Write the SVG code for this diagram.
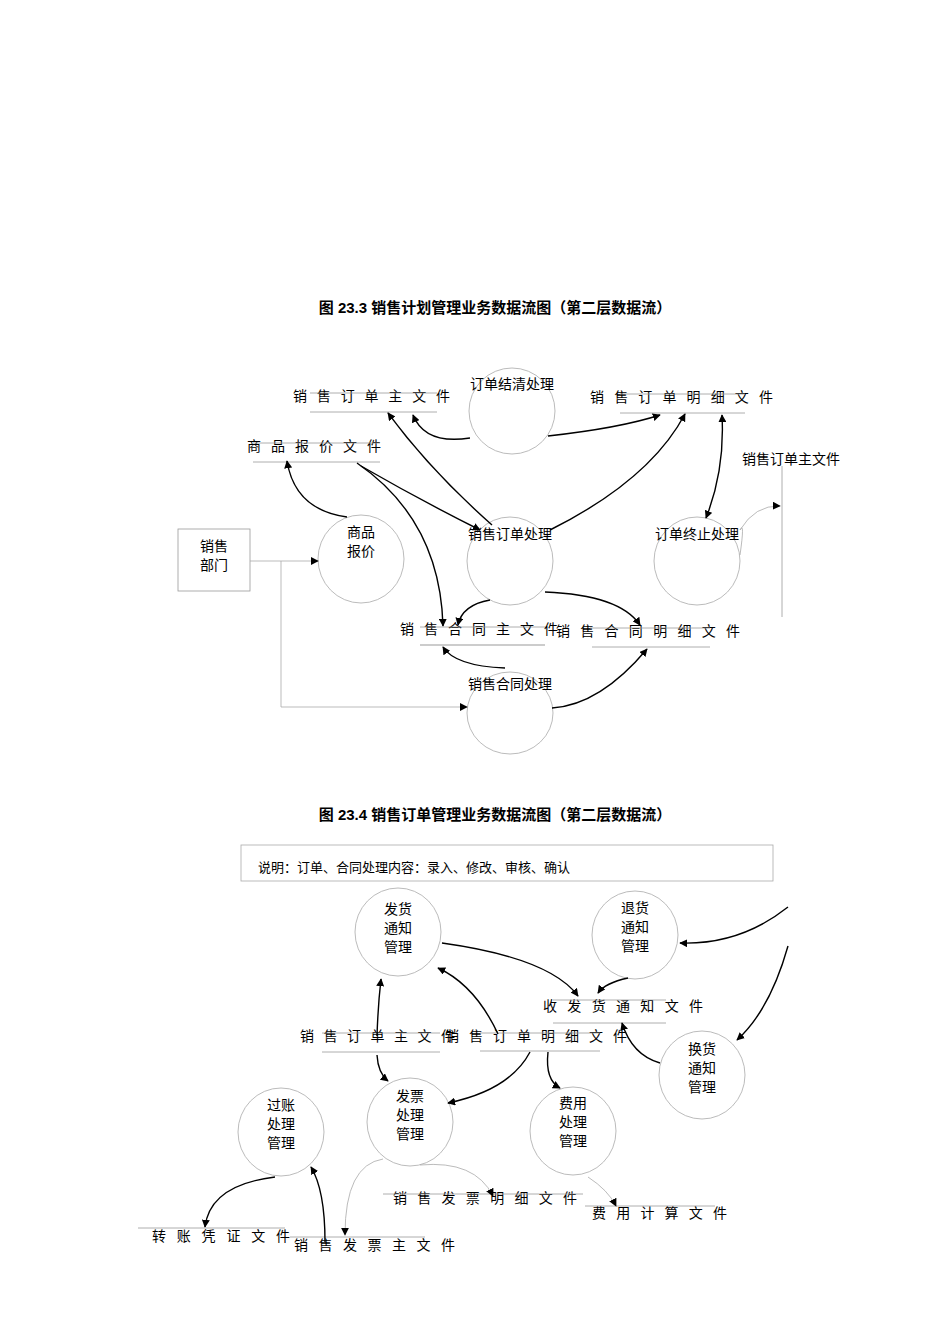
<svg xmlns="http://www.w3.org/2000/svg" width="950" height="1344" viewBox="0 0 950 1344">
<style>
text{font-family:"Liberation Serif","Noto Sans CJK SC",serif;font-size:14px;fill:#000}
.t{font-family:"Liberation Sans","Noto Sans CJK SC",sans-serif;font-weight:bold;font-size:15px}
.c{fill:#fff;stroke:#aaa;stroke-width:0.8}
.l{stroke:#999;stroke-width:0.8;fill:none}
.a{stroke:#000;stroke-width:1.4;fill:none;marker-end:url(#ar)}
.g{stroke:#aaa;stroke-width:0.8;fill:none;marker-end:url(#ar)}
.m{text-anchor:middle}
</style>
<defs><marker id="ar" viewBox="0 0 10 10" refX="9" refY="5" markerWidth="8" markerHeight="8" markerUnits="userSpaceOnUse" orient="auto-start-reverse"><path d="M0,0L10,5L0,10z" fill="#000"/></marker></defs>
<text class="t m" x="495" y="313">图 23.3  销售计划管理业务数据流图（第二层数据流）</text>
<text class="t m" x="495" y="820">图 23.4  销售订单管理业务数据流图（第二层数据流）</text>
<g id="stores">
<g id="s1"><text x="293" y="401" textLength="157" lengthAdjust="spacing">销售订单主文件</text><path class="l" d="M310 393H437M310 412H437"/></g>
<g id="s2"><text x="590" y="402" textLength="183" lengthAdjust="spacing">销售订单明细文件</text><path class="l" d="M620 394H745M620 413H745"/></g>
<g id="s3"><text x="247" y="451" textLength="134" lengthAdjust="spacing">商品报价文件</text><path class="l" d="M253 443H380M253 462H380"/></g>
<g id="s4"><text x="742" y="464">销售订单主文件</text><path class="l" d="M782 466V617"/></g>
<g id="s5"><text x="400" y="634" textLength="158" lengthAdjust="spacing">销售合同主文件</text><path class="l" d="M420 627H545"/><path d="M420 645H545" stroke="#bbb" stroke-width="1.5"/></g>
<g id="s6"><text x="556" y="636" textLength="184" lengthAdjust="spacing">销售合同明细文件</text><path class="l" d="M590 628H710M592 647H710"/></g>
<g id="s7"><text x="543" y="1011" textLength="160" lengthAdjust="spacing">收发货通知文件</text><path class="l" d="M553 1000H666M553 1023H666"/></g>
<g id="s8"><text x="300" y="1041" textLength="155" lengthAdjust="spacing">销售订单主文件</text><path class="l" d="M322 1033H440M322 1052H440"/></g>
<g id="s9"><text x="445" y="1041" textLength="182" lengthAdjust="spacing">销售订单明细文件</text><path class="l" d="M480 1033H600M480 1051H600"/></g>
<g id="s10"><text x="393" y="1203" textLength="184" lengthAdjust="spacing">销售发票明细文件</text><path class="l" d="M383 1194H583"/></g>
<g id="s11"><text x="592" y="1218" textLength="135" lengthAdjust="spacing">费用计算文件</text><path class="l" d="M585 1206H715"/></g>
<g id="s12"><text x="152" y="1241" textLength="138" lengthAdjust="spacing">转账凭证文件</text><path class="l" d="M138 1228H285"/></g>
<g id="s13"><text x="294" y="1250" textLength="161" lengthAdjust="spacing">销售发票主文件</text><path class="l" d="M290 1237H425"/></g>
</g>
<g id="n-dept"><rect x="178" y="529" width="72" height="62" fill="#fff" stroke="#999" stroke-width="0.8"/><text class="m" x="214" y="551">销售</text><text class="m" x="214" y="570">部门</text></g>
<g id="n1"><ellipse class="c" cx="512" cy="411" rx="43" ry="43"/><text class="m" x="512" y="389">订单结清处理</text></g>
<g id="n2"><ellipse class="c" cx="361" cy="559" rx="43" ry="44"/><text class="m" x="361" y="537">商品</text><text class="m" x="361" y="556">报价</text></g>
<g id="n3"><ellipse class="c" cx="510" cy="561" rx="43" ry="44"/><text class="m" x="510" y="539">销售订单处理</text></g>
<g id="n4"><ellipse class="c" cx="697" cy="561" rx="43" ry="44"/><text class="m" x="697" y="539">订单终止处理</text></g>
<g id="n5"><ellipse class="c" cx="510" cy="713" rx="43" ry="41"/><text class="m" x="510" y="689">销售合同处理</text></g>
<rect id="note" x="241" y="845" width="532" height="36" fill="none" stroke="#aaa" stroke-width="0.8"/>
<text x="258" y="872" style="font-size:13px">说明：订单、合同处理内容：录入、修改、审核、确认</text>
<g id="n6"><ellipse class="c" cx="398" cy="932" rx="43" ry="44"/><text class="m" x="398" y="914">发货</text><text class="m" x="398" y="933">通知</text><text class="m" x="398" y="952">管理</text></g>
<g id="n7"><ellipse class="c" cx="635" cy="935" rx="43" ry="44"/><text class="m" x="635" y="913">退货</text><text class="m" x="635" y="932">通知</text><text class="m" x="635" y="951">管理</text></g>
<g id="n8"><ellipse class="c" cx="702" cy="1075" rx="43" ry="44"/><text class="m" x="702" y="1054">换货</text><text class="m" x="702" y="1073">通知</text><text class="m" x="702" y="1092">管理</text></g>
<g id="n9"><ellipse class="c" cx="281" cy="1132" rx="43" ry="44"/><text class="m" x="281" y="1110">过账</text><text class="m" x="281" y="1129">处理</text><text class="m" x="281" y="1148">管理</text></g>
<g id="n10"><ellipse class="c" cx="410" cy="1122" rx="43" ry="44"/><text class="m" x="410" y="1101">发票</text><text class="m" x="410" y="1120">处理</text><text class="m" x="410" y="1139">管理</text></g>
<g id="n11"><ellipse class="c" cx="573" cy="1131" rx="43" ry="44"/><text class="m" x="573" y="1108">费用</text><text class="m" x="573" y="1127">处理</text><text class="m" x="573" y="1146">管理</text></g>
<g id="connectors">
<path class="g" d="M250 561H318"/>
<path class="g" d="M281 561V707H467"/>
<path class="a" d="M470 438Q425 445 413 415"/>
<path class="a" d="M548 436Q620 428 660 415"/>
<path class="a" d="M492 525Q430 470 388 413"/>
<path class="a" d="M347 517Q295 510 287 461"/>
<path class="a" d="M357 463Q440 520 443 626"/>
<path class="a" d="M361 466Q420 500 480 530"/>
<path class="a" d="M550 530Q650 480 685 414"/>
<path class="a" d="M722 415Q725 470 706 518" marker-start="url(#ar)"/>
<path class="g" d="M740 555Q745 520 740 530M740 530Q755 505 780 506"/>
<path class="a" d="M490 600Q462 605 458 625"/>
<path class="a" d="M545 592Q620 595 640 625"/>
<path class="a" d="M505 668Q455 666 443 647"/>
<path class="a" d="M552 708Q600 705 647 649"/>
<path class="a" d="M442 943Q550 958 578 996"/>
<path class="a" d="M628 978Q605 983 598 993"/>
<path class="a" d="M788 907Q740 945 680 943"/>
<path class="a" d="M788 946Q770 1010 737 1040"/>
<path class="a" d="M660 1063Q632 1055 622 1023"/>
<path class="a" d="M377 1036Q378 1005 381 979"/>
<path class="a" d="M498 1034Q475 985 438 968"/>
<path class="a" d="M377 1055Q378 1073 388 1081"/>
<path class="a" d="M530 1052Q510 1090 448 1103"/>
<path class="a" d="M548 1052Q545 1080 560 1088"/>
<path class="g" d="M383 1159Q345 1165 345 1235"/>
<path class="g" d="M420 1165Q475 1160 493 1196"/>
<path class="g" d="M588 1177Q608 1190 616 1206"/>
<path class="a" d="M275 1177Q210 1185 205 1227"/>
<path class="a" d="M325 1242Q325 1190 311 1167"/>
</g>
</svg>
